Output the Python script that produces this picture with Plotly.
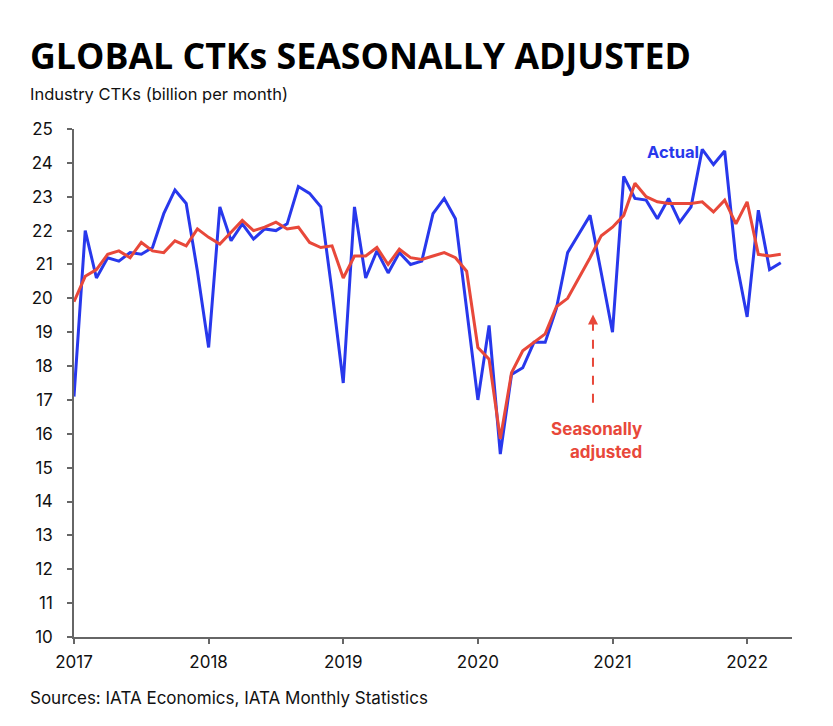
import plotly.graph_objects as go

start_year = 2017
actual = [
    17.1, 22.0, 20.6, 21.2, 21.1, 21.35, 21.3, 21.5, 22.5, 23.2, 22.8, 20.8,
    18.55, 22.7, 21.7, 22.2, 21.75, 22.05, 22.0, 22.2, 23.3, 23.1, 22.7, 20.2,
    17.5, 22.7, 20.6, 21.4, 20.75, 21.35, 21.0, 21.1, 22.5, 22.95, 22.35, 19.6,
    17.0, 19.2, 15.4, 17.75, 17.95, 18.7, 18.7, 19.7, 21.35, 21.9, 22.45, 20.75,
    19.0, 23.6, 22.95, 22.9, 22.35, 22.95, 22.25, 22.7, 24.4, 23.95, 24.35, 21.15,
    19.45, 22.6, 20.85, 21.05,
]
seasonally_adjusted = [
    19.9, 20.65, 20.85, 21.3, 21.4, 21.2, 21.65, 21.4, 21.35, 21.7, 21.55, 22.05,
    21.8, 21.6, 21.95, 22.3, 22.0, 22.1, 22.25, 22.05, 22.1, 21.65, 21.5, 21.55,
    20.6, 21.25, 21.25, 21.5, 21.0, 21.45, 21.2, 21.15, 21.25, 21.35, 21.2, 20.8,
    18.55, 18.2, 15.85, 17.8, 18.45, 18.7, 18.95, 19.75, 20.0, 20.6, 21.2, 21.85,
    22.1, 22.45, 23.4, 23.0, 22.85, 22.8, 22.8, 22.8, 22.85, 22.55, 22.9, 22.2,
    22.85, 21.3, 21.25, 21.3,
]
year_ticks = [2017, 2018, 2019, 2020, 2021, 2022]
y_ticks = list(range(10, 26))

x = [start_year + i / 12 for i in range(len(actual))]

BLUE = "#2838EC"
RED = "#E8483A"
TXT = "Inter, 'Liberation Sans', sans-serif"

fig = go.Figure()
fig.add_trace(go.Scatter(x=x, y=actual, mode="lines",
                         line=dict(color=BLUE, width=3), name="Actual"))
fig.add_trace(go.Scatter(x=x, y=seasonally_adjusted, mode="lines",
                         line=dict(color=RED, width=3), name="Seasonally adjusted"))

fig.update_layout(
    width=833, height=726,
    margin=dict(l=66, r=49, t=121, b=97),
    paper_bgcolor="white", plot_bgcolor="white",
    showlegend=False,
    font=dict(family=TXT, size=16, color="#111111"),
)
fig.update_xaxes(
    range=[2017, 2022 + 4 / 12], tickvals=year_ticks, ticktext=[str(v) for v in year_ticks],
    showgrid=False, zeroline=False, showline=True, linecolor="#666666", linewidth=1.5,
    ticks="outside", ticklen=5, tickcolor="#666666", tickwidth=1.5,
    tickfont=dict(family=TXT, size=17, color="#111111"),
    ticklabelstandoff=4,
)
fig.update_yaxes(
    range=[10, 25], tickvals=y_ticks,
    showgrid=False, zeroline=False, showline=True, linecolor="#666666", linewidth=1.5,
    ticks="outside", ticklen=5, tickcolor="#666666", tickwidth=1.5,
    tickfont=dict(family=TXT, size=17, color="#111111"),
    ticklabelstandoff=11,
)

fig.add_annotation(text="<b>GLOBAL CTKs SEASONALLY ADJUSTED</b>", xref="paper", yref="paper",
                   x=-0.0641, y=1.146, xanchor="left", yanchor="middle", showarrow=False,
                   font=dict(family="'Open Sans', sans-serif", size=35.7, color="#000000"))
fig.add_annotation(text="Industry CTKs (billion per month)", xref="paper", yref="paper",
                   x=-0.0641, y=1.0695, xanchor="left", yanchor="middle", showarrow=False,
                   font=dict(family=TXT, size=16.5, color="#111111"))
fig.add_annotation(text="Sources: IATA Economics, IATA Monthly Statistics", xref="paper", yref="paper",
                   x=-0.0641, y=-0.1195, xanchor="left", yanchor="middle", showarrow=False,
                   font=dict(family=TXT, size=17, color="#111111"))

fig.add_annotation(text="<b>Actual</b>", x=2021.238, y=24.33, xanchor="left", yanchor="middle",
                   showarrow=False, font=dict(family=TXT, size=16.5, color=BLUE))
fig.add_annotation(text="<b>Seasonally</b>", x=2021.235, y=16.145, xanchor="right", yanchor="middle",
                   showarrow=False, font=dict(family=TXT, size=17, color=RED))
fig.add_annotation(text="<b>adjusted</b>", x=2021.235, y=15.47, xanchor="right", yanchor="middle",
                   showarrow=False, font=dict(family=TXT, size=17, color=RED))

arrow_x = 2020.855
fig.add_shape(type="line", x0=arrow_x, x1=arrow_x, y0=16.92, y1=19.3,
              line=dict(color=RED, width=2, dash="dash"))
fig.add_annotation(x=arrow_x, y=19.52, ax=arrow_x, ay=19.2, axref="x", ayref="y",
                   text="", showarrow=True, arrowhead=2, arrowsize=1, arrowwidth=2,
                   arrowcolor=RED, standoff=0)

fig.write_html("out.html")
